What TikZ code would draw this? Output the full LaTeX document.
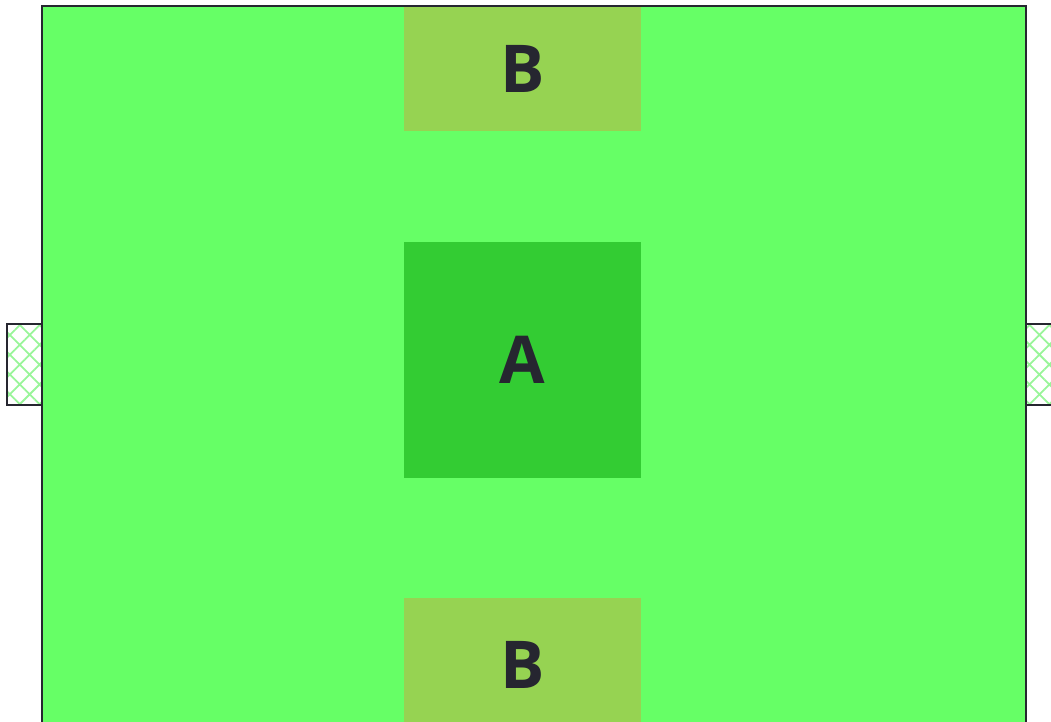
\documentclass[tikz,border=0pt]{standalone}
\usepackage{fontspec}
\setmainfont{Open Sans}
\usetikzlibrary{patterns.meta}
\definecolor{fieldgreen}{HTML}{66FF66}
\definecolor{zonea}{HTML}{33CC33}
\definecolor{zoneb}{HTML}{96D352}
\definecolor{netgreen}{HTML}{99F599}
\definecolor{inkdark}{HTML}{262630}
\tikzset{
  x=1pt,y=-1pt,
  field/.style={draw=inkdark,line width=2pt,fill=fieldgreen},
  zone/.style={draw=none,minimum width=237pt,inner sep=0pt,
               font=\fontsize{66}{66}\selectfont\bfseries,text=inkdark},
  goal/.style={draw=inkdark,line width=1.5pt,
               pattern={Hatch[angle=45,distance=14pt,line width=1.8pt]},
               pattern color=netgreen},
}
\begin{document}
\begin{tikzpicture}
  \useasboundingbox (0,0) rectangle (1051,721);
  \clip (0,0) rectangle (1051,721);

  % pitch
  \draw[field] (42,6) rectangle (1026,760);

  % goals
  \draw[goal] (7,324) rectangle (42,405);
  \draw[goal] (1026,324) rectangle (1070,405);

  % zones
  \node[zone,fill=zoneb,minimum height=124pt] (btop) at (522.5,69) {B};
  \node[zone,fill=zonea,minimum height=236pt] (acentre) at (522.5,360) {A};
  \node[zone,fill=zoneb,minimum height=134pt] (bbottom) at (522.5,665) {B};
\end{tikzpicture}
\end{document}
